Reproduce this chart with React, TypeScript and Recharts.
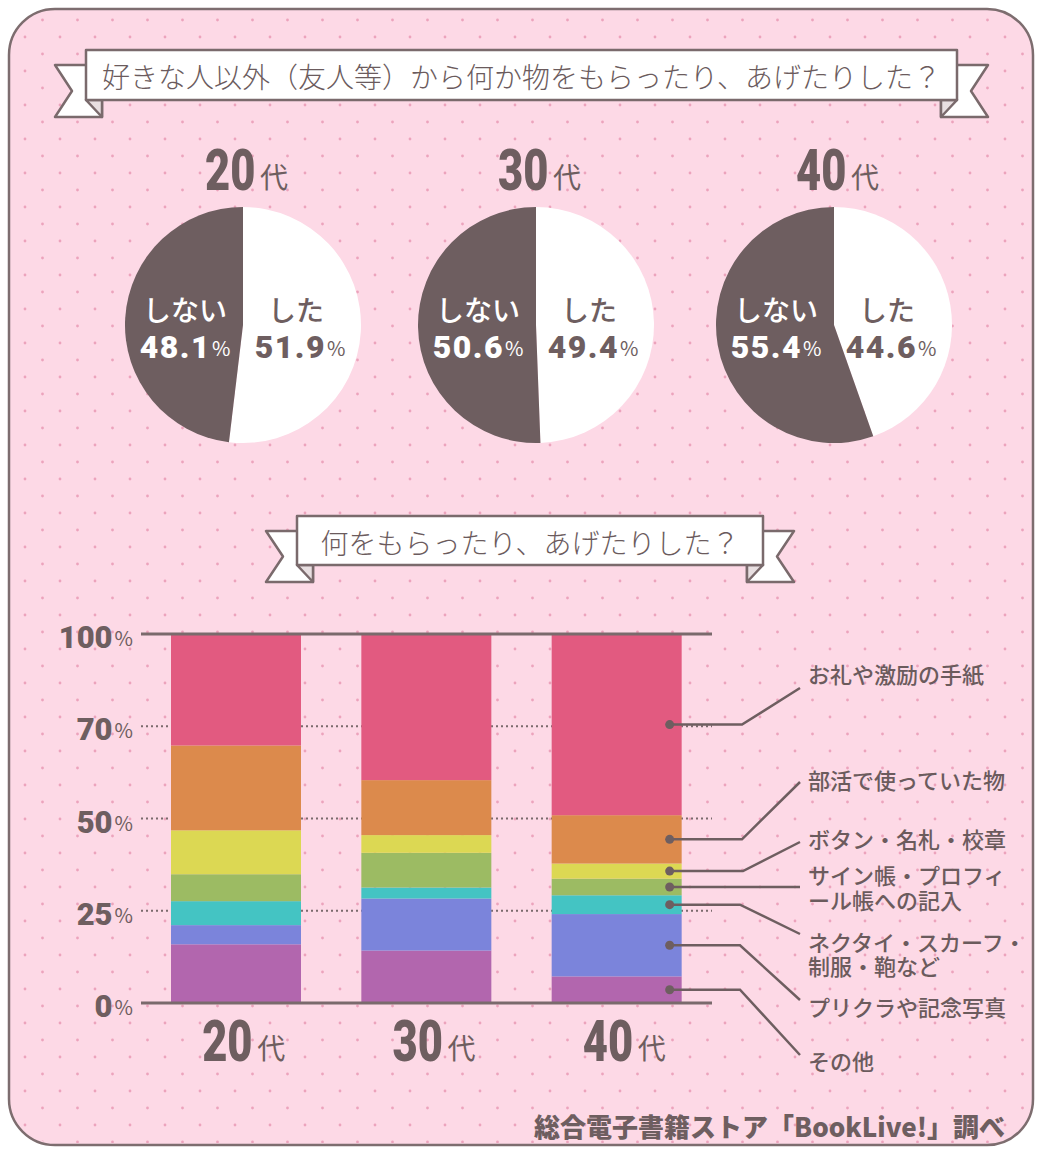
import React from 'react';
import {
  BarChart,
  Bar,
  XAxis,
  YAxis,
  CartesianGrid,
  ReferenceLine,
  PieChart,
  Pie,
  Cell,
} from 'recharts';

// --- data ---
const AGES = ['20代', '30代', '40代'];
const DID = [51.9, 49.4, 44.6];
const DID_NOT = [48.1, 50.6, 55.4];

// stacked from bottom to top
const OTHER = [15.9, 14.2, 7.2];
const PHOTO = [5.2, 14.1, 16.9];
const UNIFORM = [6.5, 3.0, 5.1];
const AUTOGRAPH = [7.3, 9.4, 4.5];
const BUTTON = [11.9, 4.8, 4.1];
const CLUB = [23.0, 14.9, 13.1];
const LETTER = [30.2, 39.6, 49.1];

const SERIES_KEYS = ['other', 'photo', 'uniform', 'autograph', 'button', 'club', 'letter'];
const SERIES_VALUES = [OTHER, PHOTO, UNIFORM, AUTOGRAPH, BUTTON, CLUB, LETTER];
const SERIES_LABELS = [
  ['その他'],
  ['プリクラや記念写真'],
  ['ネクタイ・スカーフ・', '制服・鞄など'],
  ['サイン帳・プロフィ', 'ール帳への記入'],
  ['ボタン・名札・校章'],
  ['部活で使っていた物'],
  ['お礼や激励の手紙'],
];

const Y_TICKS = [0, 25, 50, 75, 100];
const Y_TICK_LABELS = ['0', '25', '50', '70', '100'];

// --- styles / layout ---
const SERIES_COLORS = ['#b266ae', '#7b84db', '#44c4c3', '#9cbb63', '#dcd853', '#dc8a4c', '#e25a80'];
const DARK = '#6e5e60';
const TEXT = '#6b5b5d';
const BG = '#fdd9e6';
const NUM_FONT = "Roboto, 'DejaVu Sans', sans-serif";
const JP_FONT = "'Noto Sans CJK JP', 'Noto Sans', sans-serif";

const PIE_CX = [238, 531, 829];
// leader line layout for each series: elbow x (null = straight), end y, text line y's
const LEADERS = [
  { elbow: 740, end: 1055, text: [1060] },
  { elbow: 740, end: 1000, text: [1006] },
  { elbow: 740, end: 934, text: [941, 965] },
  { elbow: null, end: 0, text: [874, 899] },
  { elbow: 743, end: 842, text: [838] },
  { elbow: 742, end: 782, text: [779] },
  { elbow: 742, end: 688, text: [673] },
];

const barData = AGES.map((age, i) => {
  const row: any = { age };
  SERIES_KEYS.forEach((k, s) => (row[k] = SERIES_VALUES[s][i]));
  return row;
});

const pieData = AGES.map((age, i) => [
  { name: 'した', value: DID[i] },
  { name: 'しない', value: DID_NOT[i] },
]);

// big condensed "20" + small "代"
const AgeLabel = ({ left, baseline, text }: { left: number; baseline: number; text: string }) => {
  const num = text.replace('代', '');
  return (
    <g fill={DARK}>
      <text transform={`translate(${left},${baseline}) scale(0.75,1)`} fontFamily={NUM_FONT} fontWeight={900} fontSize={58}>
        {num}
      </text>
      <text x={left + 55} y={baseline - 2} fontFamily={JP_FONT} fontSize={28}>
        代
      </text>
    </g>
  );
};

const renderYTick = (props: any) => {
  const { x, y, payload } = props;
  const label = Y_TICK_LABELS[Y_TICKS.indexOf(payload.value)];
  return (
    <text x={x} y={y + 3} textAnchor="end" dominantBaseline="central" fill={DARK}>
      <tspan fontFamily={NUM_FONT} fontWeight={900} fontSize={31}>{label}</tspan>
      <tspan fontFamily={JP_FONT} fontSize={20} dx={2}>%</tspan>
    </text>
  );
};

const renderXTick = (props: any) => {
  const { x, y, payload } = props;
  return <AgeLabel left={x - 34} baseline={y + 56} text={payload.value} />;
};

const renderPieLabel = (props: any) => {
  const { cx, cy, index, value, name } = props;
  const did = index === 0;
  const x = cx + (did ? 57 : -58);
  const color = did ? DARK : '#ffffff';
  return (
    <g>
      <text x={x - (did ? 4 : 0)} y={cy - 16} textAnchor="middle" dominantBaseline="central" fontFamily={JP_FONT} fontWeight={500} fontSize={28} fill={color}>
        {name}
      </text>
      <text x={x} y={cy + 22} textAnchor="middle" dominantBaseline="central" fill={color}>
        <tspan fontFamily={NUM_FONT} fontWeight={900} fontSize={32} letterSpacing={1.5}>{value.toFixed(1)}</tspan>
        <tspan fontFamily={JP_FONT} fontSize={20} dx={1}>%</tspan>
      </text>
    </g>
  );
};

const makeShape = (s: number) => (props: any) => {
  const { x, y, width, height, fill, index } = props;
  const lead = LEADERS[s];
  const dx = x + width - 12;
  const dy = y + height / 2;
  const path = lead.elbow === null ? `M${dx},${dy} H800` : `M${dx},${dy} H${lead.elbow} L800,${lead.end}`;
  return (
    <g>
      <rect x={x} y={y} width={width} height={height} fill={fill} />
      {index === 2 && (
        <g>
          <path d={path} fill="none" stroke={DARK} strokeWidth={2.5} />
          <circle cx={dx} cy={dy} r={4.5} fill={DARK} />
          <text x={808} y={lead.text[0]} dominantBaseline="central" fontFamily={JP_FONT} fontWeight={500} fontSize={22} fill={TEXT}>
            {SERIES_LABELS[s].map((t, k) => (
              <tspan key={k} x={808} y={lead.text[k]} dominantBaseline="central">
                {t}
              </tspan>
            ))}
          </text>
        </g>
      )}
    </g>
  );
};

const Ribbon = ({ x1, x2, y1, y2, text }: { x1: number; x2: number; y1: number; y2: number; text: string }) => {
  const tt = y1 + 15;
  const tb = y2 + 17;
  const mid = (tt + tb) / 2;
  const left = `${x1 - 31},${tt} ${x1 + 16},${tt} ${x1 + 16},${tb} ${x1 - 31},${tb} ${x1 - 14},${mid}`;
  const right = `${x2 + 31},${tt} ${x2 - 16},${tt} ${x2 - 16},${tb} ${x2 + 31},${tb} ${x2 + 14},${mid}`;
  return (
    <g stroke="#7a6a6c" strokeWidth={2.5} strokeLinejoin="round">
      <polygon points={left} fill="#fff" />
      <polygon points={right} fill="#fff" />
      <polygon points={`${x1},${y2} ${x1 + 16},${y2} ${x1 + 16},${tb}`} fill="#e8dfe1" />
      <polygon points={`${x2},${y2} ${x2 - 16},${y2} ${x2 - 16},${tb}`} fill="#e8dfe1" />
      <rect x={x1} y={y1} width={x2 - x1} height={y2 - y1} fill="#fff" />
      <text x={(x1 + x2) / 2} y={(y1 + y2) / 2 + 1} textAnchor="middle" dominantBaseline="central" stroke="none" fill={TEXT} fontFamily={JP_FONT} fontWeight={300} fontSize={28}>
        {text}
      </text>
    </g>
  );
};

const Background = () => (
  <svg width={1041} height={1151} style={{ position: 'absolute', left: 0, top: 0 }}>
    <defs>
      <pattern id="dots" width={35} height={34} patternUnits="userSpaceOnUse">
        <circle cx={25} cy={3} r={1.4} fill="#eca3bc" />
        <circle cx={7.5} cy={20} r={1.4} fill="#eca3bc" />
      </pattern>
    </defs>
    <rect x={9} y={9} width={1024} height={1136} rx={46} fill={BG} stroke="#7d6d6f" strokeWidth={2.5} />
    <rect x={11} y={11} width={1020} height={1132} rx={44} fill="url(#dots)" />
    <Ribbon x1={86} x2={957} y1={50} y2={100} text="好きな人以外（友人等）から何か物をもらったり、あげたりした？" />
    <Ribbon x1={297} x2={763} y1={516} y2={565} text="何をもらったり、あげたりした？" />
    {AGES.map((a, i) => (
      <AgeLabel key={a} left={PIE_CX[i] - 33} baseline={190} text={a} />
    ))}
    <text x={1005} y={1137} textAnchor="end" fill={DARK} fontFamily={JP_FONT} fontWeight={900} fontSize={26}>
      総合電子書籍ストア「BookLive!」調べ
    </text>
  </svg>
);

export default function App() {
  return (
    <div style={{ position: 'absolute', left: 0, top: 0, width: 1041, height: 1151, background: '#fff' }}>
      <Background />
      <div style={{ position: 'absolute', left: 0, top: 190 }}>
        <PieChart width={1041} height={260}>
          {AGES.map((age, i) => (
            <Pie
              key={age}
              data={pieData[i]}
              dataKey="value"
              nameKey="name"
              cx={PIE_CX[i]}
              cy={130}
              outerRadius={118}
              startAngle={90}
              endAngle={-270}
              stroke="none"
              label={renderPieLabel}
              labelLine={false}
              isAnimationActive={false}
            >
              {pieData[i].map((d, j) => (
                <Cell key={d.name} fill={j === 0 ? '#ffffff' : DARK} />
              ))}
            </Pie>
          ))}
        </PieChart>
      </div>
      <div style={{ position: 'absolute', left: 0, top: 0 }}>
        <BarChart
          width={1041}
          height={1151}
          data={barData}
          margin={{ top: 634, right: 329, bottom: 88, left: 61 }}
        >
          <CartesianGrid vertical={false} stroke="#7a6a6c" strokeDasharray="2 3" strokeWidth={2} />
          <XAxis dataKey="age" axisLine={false} tickLine={false} tickSize={0} height={60} tick={renderXTick} interval={0} />
          <YAxis
            type="number"
            domain={[0, 100]}
            ticks={Y_TICKS}
            width={80}
            axisLine={false}
            tickLine={false}
            tickSize={0}
            tickMargin={8}
            tick={renderYTick}
            interval={0}
          />
          {SERIES_KEYS.map((k, s) => (
            <Bar key={k} dataKey={k} stackId="a" barSize={130} fill={SERIES_COLORS[s]} shape={makeShape(s)} isAnimationActive={false} />
          ))}
          <ReferenceLine y={100} stroke="#7a6a6c" strokeWidth={3} />
          <ReferenceLine y={0} stroke="#7a6a6c" strokeWidth={3} />
        </BarChart>
      </div>
    </div>
  );
}
